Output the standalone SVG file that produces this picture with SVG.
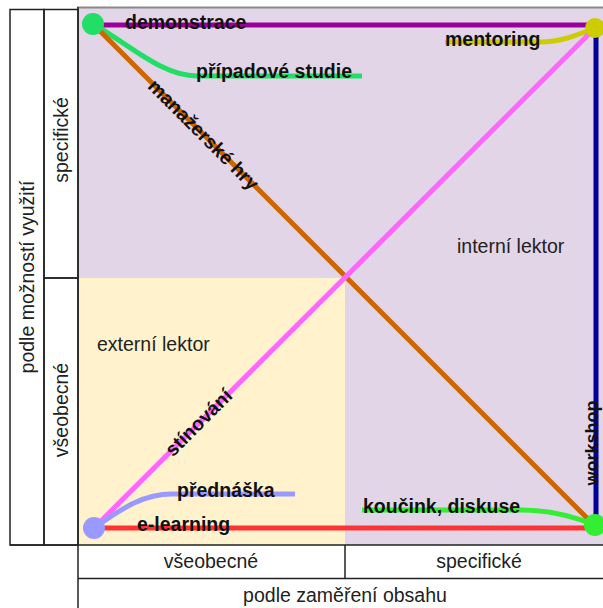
<svg xmlns="http://www.w3.org/2000/svg" width="603" height="608" viewBox="0 0 603 608">
<style>
.frame{fill:none;stroke:#222;stroke-width:1.5}
.lbl{font-family:"Liberation Sans",Arial,sans-serif;font-size:19.5px;font-weight:bold;fill:#111}
.ax{font-family:"Liberation Sans",Arial,sans-serif;font-size:19.5px;fill:#222}
.ln{fill:none;stroke-width:5;stroke-linecap:butt}
</style>
<rect width="603" height="608" fill="#fff"/>
<g id="plot">
<rect x="78" y="8" width="525" height="537" fill="#e1d5e7"/>
<rect x="78" y="278" width="267" height="267" fill="#fff2cc"/>
<line x1="77" y1="7.5" x2="603" y2="7.5" stroke="#888" stroke-width="2"/>
</g>
<g id="axes">
<rect class="frame" x="10" y="9.5" width="34" height="535.5"/>
<rect class="frame" x="44" y="9.5" width="34" height="268.5"/>
<rect class="frame" x="44" y="278" width="34" height="267"/>
<line class="frame" x1="78" y1="7" x2="78" y2="608"/>
<line class="frame" x1="10" y1="545" x2="603" y2="545"/>
<line class="frame" x1="78" y1="578.5" x2="603" y2="578.5"/>
<line class="frame" x1="345" y1="545" x2="345" y2="578.5"/>
<text class="ax" transform="translate(68,140) rotate(-90)" text-anchor="middle">specifické</text>
<text class="ax" transform="translate(68,410) rotate(-90)" text-anchor="middle">všeobecné</text>
<text class="ax" transform="translate(34,277) rotate(-90)" text-anchor="middle">podle možností využití</text>
<text class="ax" x="211" y="568" text-anchor="middle">všeobecné</text>
<text class="ax" x="479" y="568" text-anchor="middle">specifické</text>
<text class="ax" x="345" y="602" text-anchor="middle">podle zaměření obsahu</text>
<text class="ax" x="97" y="351">externí lektor</text>
<text class="ax" x="457" y="253">interní lektor</text>
</g>
<g id="connectors">
<path class="ln" stroke="#990099" d="M93,25 L592,25"/>
<path class="ln" stroke="#22dd66" d="M93,24 C130,45 162,76 197,76 L362,76"/>
<path class="ln" stroke="#cc6600" d="M93,24 L595,526"/>
<path class="ln" stroke="#cccc00" d="M595,28 C575,36 560,42 540,42 L445,42"/>
<path class="ln" stroke="#ff66ff" d="M94,528 L595,28"/>
<path class="ln" stroke="#000099" d="M596,28 L596,525"/>
<path class="ln" stroke="#9999ff" d="M94,528 C125,506 145,494 172,494 L295,494"/>
<path class="ln" stroke="#ff3333" d="M94,528 L595,528"/>
<path class="ln" stroke="#33ee33" d="M595,525 C570,515 548,510 522,510 L362,510"/>
<text class="lbl" x="125" y="29">demonstrace</text>
<text class="lbl" x="196" y="78">případové studie</text>
<text class="lbl" x="445" y="46">mentoring</text>
<text class="lbl" transform="translate(203,135) rotate(45)" text-anchor="middle" y="6">manažerské hry</text>
<text class="lbl" transform="translate(199,423) rotate(-45)" text-anchor="middle" y="6">stínování</text>
<text class="lbl" transform="translate(592,443) rotate(-90)" text-anchor="middle" y="6" style="font-size:18px">workshop</text>
<text class="lbl" x="177" y="497">přednáška</text>
<text class="lbl" x="137" y="531">e-learning</text>
<text class="lbl" x="363" y="513">koučink, diskuse</text>
</g>
<g id="node-general-specific"><circle cx="93" cy="24" r="11" fill="#22dd66"/></g>
<g id="node-specific-specific"><circle cx="595" cy="28" r="10" fill="#cccc00"/></g>
<g id="node-general-general"><circle cx="94" cy="528" r="11" fill="#9999ff"/></g>
<g id="node-specific-general"><circle cx="595" cy="525" r="11" fill="#33ee33"/></g>
</svg>
